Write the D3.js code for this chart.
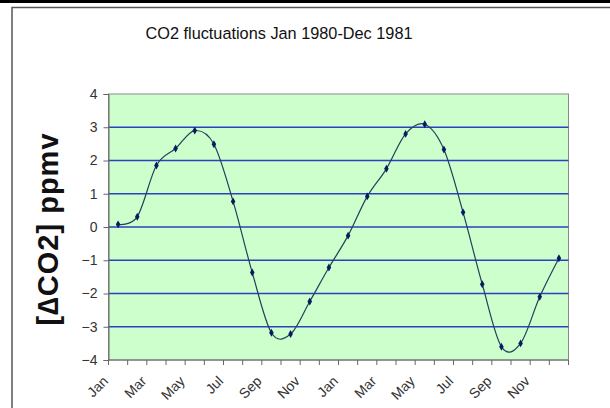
<!DOCTYPE html>
<html>
<head>
<meta charset="utf-8">
<script src="https://cdn.jsdelivr.net/npm/d3@7"></script>
<style>
  body { margin: 0; background: #fff; }
  svg { display: block; font-family: "Liberation Sans", Arial, sans-serif; }
</style>
</head>
<body>
<svg id="chart" width="610" height="408"></svg>
<script>
const months = ["Jan","Feb","Mar","Apr","May","Jun","Jul","Aug","Sep","Oct","Nov","Dec",
                "Jan","Feb","Mar","Apr","May","Jun","Jul","Aug","Sep","Oct","Nov","Dec"]
const co2 = [0.08, 0.31, 1.85, 2.36, 2.90, 2.49, 0.77, -1.37, -3.18, -3.22, -2.24, -1.22,
             -0.26, 0.92, 1.75, 2.80, 3.09, 2.33, 0.44, -1.72, -3.60, -3.50, -2.10, -0.94]
const yTicks = [-4, -3, -2, -1, 0, 1, 2, 3, 4]

const svg = d3.select("#chart")
const plotL = 108.5, plotR = 568.5, plotT = 94, plotB = 360

// page border bits
svg.append("rect").attr("x", 0).attr("y", 0).attr("width", 610).attr("height", 3).attr("fill", "#000")
svg.append("rect")
  .attr("x", 12).attr("y", 7.5).attr("width", 640).attr("height", 440)
  .attr("fill", "none").attr("stroke", "#555").attr("stroke-width", 1.5)

const x = d3.scaleBand().domain(d3.range(months.length)).range([plotL, plotR])
const y = d3.scaleLinear().domain([-4, 4]).range([plotB, plotT])

// plot area
svg.append("rect")
  .attr("x", plotL).attr("y", plotT).attr("width", plotR - plotL).attr("height", plotB - plotT)
  .attr("fill", "#ccffcc").attr("stroke", "#8a8a8a").attr("stroke-width", 1)

// gridlines
svg.append("g").selectAll("line")
  .data(yTicks.filter(d => d > -4 && d < 4))
  .join("line")
  .attr("x1", plotL).attr("x2", plotR)
  .attr("y1", d => y(d)).attr("y2", d => y(d))
  .attr("stroke", "#2e3fc0").attr("stroke-width", 1.5)

// y axis
const yAxis = svg.append("g")
  .attr("transform", `translate(${plotL},0)`)
  .call(d3.axisLeft(y).tickValues(yTicks).tickSize(5).tickPadding(6).tickFormat(d3.format("d")))
yAxis.select(".domain").attr("stroke", "#666")
yAxis.selectAll(".tick line").attr("stroke", "#666")
yAxis.selectAll("text").attr("font-size", 14).attr("fill", "#333")
  .attr("font-family", "Liberation Sans, Arial, sans-serif")

// x axis: ticks between categories
const xg = svg.append("g").attr("transform", `translate(0,${plotB})`)
xg.append("line").attr("x1", plotL).attr("x2", plotR).attr("stroke", "#666")
xg.selectAll("line.tk")
  .data(d3.range(months.length + 1))
  .join("line").attr("class", "tk")
  .attr("x1", i => plotL + i * x.step()).attr("x2", i => plotL + i * x.step())
  .attr("y1", 0).attr("y2", 5).attr("stroke", "#666")
xg.selectAll("text")
  .data(d3.range(0, months.length, 2))
  .join("text")
  .attr("transform", i => `translate(${x(i) + x.bandwidth() / 2 - 9},${22}) rotate(-45)`)
  .attr("text-anchor", "end")
  .attr("font-size", 14).attr("fill", "#333")
  .text(i => months[i])

// series
const line = d3.line()
  .x((d, i) => x(i) + x.bandwidth() / 2)
  .y(d => y(d))
  .curve(d3.curveCatmullRom.alpha(0))
svg.append("path").datum(co2)
  .attr("d", line).attr("fill", "none")
  .attr("stroke", "#24405a").attr("stroke-width", 1.2)
svg.append("g").selectAll("path")
  .data(co2)
  .join("path")
  .attr("transform", (d, i) => `translate(${x(i) + x.bandwidth() / 2},${y(d)})`)
  .attr("d", d3.symbol(d3.symbolDiamond, 18))
  .attr("fill", "#0a1a60")

// titles
svg.append("text")
  .attr("x", 279).attr("y", 39).attr("text-anchor", "middle")
  .attr("font-size", 16.3).attr("fill", "#111")
  .text("CO2 fluctuations Jan 1980-Dec 1981")
svg.append("text")
  .attr("transform", "translate(58,229) rotate(-90)")
  .attr("text-anchor", "middle")
  .attr("font-size", 29).attr("font-weight", "bold").attr("fill", "#111")
  .attr("letter-spacing", 1)
  .text("[\u2206CO2] ppmv")
</script>
</body>
</html>
